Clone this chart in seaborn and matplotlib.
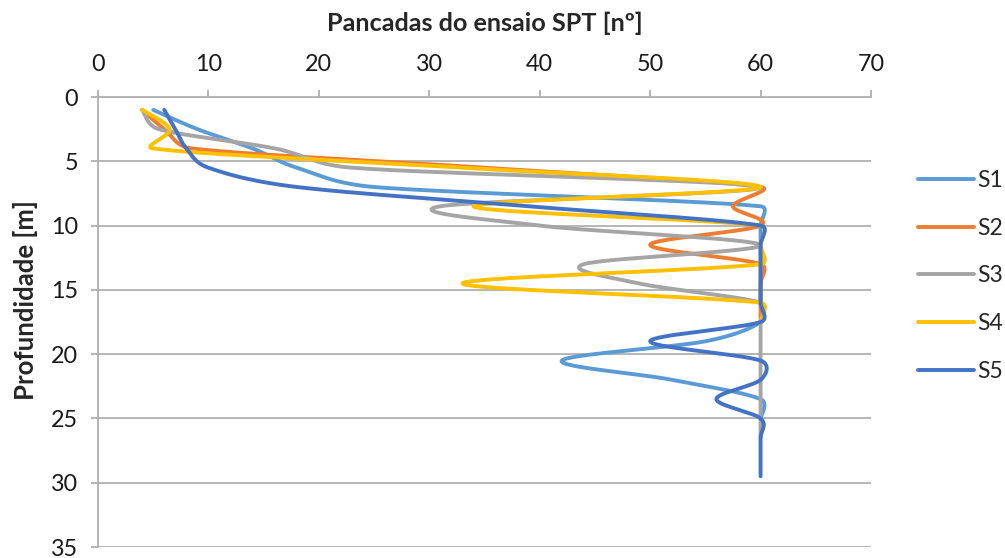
import numpy as np
import pandas as pd
import matplotlib
matplotlib.use("Agg")
import matplotlib.pyplot as plt
from matplotlib.lines import Line2D
import seaborn as sns

# SPT every 1.5 m, starting at 1 m
depth = [1, 2.5, 4, 5.5, 7, 8.5, 10, 11.5, 13, 14.5, 16, 17.5, 19, 20.5,
         22, 23.5, 25, 26.5, 28, 29.5]

s1 = [5, 9, 14, 18, 25, 60, 60, 60, 60, 60, 60, 60, 55, 42, 52, 60, 60]
s2 = [4, 6, 8.5, 35, 60, 57.5, 60, 50, 60, 60, 60, 60]
s3 = [4, 5.5, 16, 23, 60, 31, 40, 60, 44, 49, 60, 60, 60, 60, 60, 60, 60, 60]
s4 = [4, 6.5, 5, 33, 60, 34, 60, 60, 60, 33, 60, 60]
s5 = [6, 7, 8, 10, 18, 39, 60, 60, 60, 60, 60, 60, 50, 60, 60, 56, 60, 60, 60, 60]

series = {"S1": s1, "S2": s2, "S3": s3, "S4": s4, "S5": s5}
colors = {"S1": "#5B9BD5", "S2": "#ED7D31", "S3": "#A5A5A5",
          "S4": "#FFC000", "S5": "#4472C4"}

x_ticks = [0, 10, 20, 30, 40, 50, 60, 70]
y_ticks = [0, 5, 10, 15, 20, 25, 30, 35]


def smooth(xs, ys, n=30, sx=11.04, sy=12.87):
    # Excel-style smoothed line: Bezier segments with tangents capped at
    # half the chord (distances measured in screen pixels)
    p = np.column_stack([np.asarray(xs) * sx, np.asarray(ys) * sy]).astype(float)
    p = np.vstack([p[0], p, p[-1]])
    t = np.linspace(0, 1, n, endpoint=False)[:, None]
    out = []
    for i in range(1, len(p) - 2):
        p0, p1, p2, p3 = p[i - 1], p[i], p[i + 1], p[i + 2]
        d02 = np.linalg.norm(p2 - p0)
        d12 = np.linalg.norm(p2 - p1)
        d13 = np.linalg.norm(p3 - p1)
        f1 = 1 / 6 if d02 / 6 < d12 / 2 else d12 / (2 * d02)
        f2 = 1 / 6 if d13 / 6 < d12 / 2 else d12 / (2 * d13)
        c1 = p1 + (p2 - p0) * f1
        c2 = p2 - (p3 - p1) * f2
        seg = ((1 - t) ** 3) * p1 + 3 * ((1 - t) ** 2) * t * c1 \
            + 3 * (1 - t) * t ** 2 * c2 + t ** 3 * p2
        out.append(seg)
    out.append(p[-2][None, :])
    out = np.vstack(out)
    return out[:, 0] / sx, out[:, 1] / sy


frames = []
for name, vals in series.items():
    cx, cy = smooth(vals, depth[:len(vals)])
    frames.append(pd.DataFrame({"N": cx, "Profundidade": cy, "Sondagem": name}))
df = pd.concat(frames, ignore_index=True)

sns.set_style("white")
plt.rcParams["font.family"] = ["Lato", "DejaVu Sans"]

fig = plt.figure(figsize=(10.05, 5.58), dpi=100)
ax = fig.add_axes([98 / 1005, 1 - 547 / 558, 773 / 1005, 450 / 558])

sns.lineplot(data=df, x="N", y="Profundidade", hue="Sondagem",
             palette=colors, sort=False, estimator=None, lw=2.8,
             legend=False, ax=ax)

ax.set_xlim(0, 70)
ax.set_ylim(35, 0)
ax.set_xticks(x_ticks)
ax.set_yticks(y_ticks)
ax.xaxis.tick_top()
ax.xaxis.set_label_position("top")

grid_c = "#b0b0b0"
ax.grid(axis="y", color=grid_c, lw=1.3)
ax.grid(axis="x", visible=False)
for side in ["right", "bottom"]:
    ax.spines[side].set_visible(False)
for side in ["left", "top"]:
    ax.spines[side].set_color(grid_c)
    ax.spines[side].set_linewidth(1.3)

ax.tick_params(axis="x", top=True, bottom=False, direction="out", length=5,
               width=1.3, color=grid_c, pad=10.5, labelsize=16.8,
               labelcolor="#1a1a1a")
ax.tick_params(axis="y", left=True, direction="out", length=5, width=1.3,
               color=grid_c, pad=9.5, labelsize=16.8, labelcolor="#1a1a1a")

ax.set_xlabel("Pancadas do ensaio SPT [nº]", fontsize=18.2, fontweight="bold")
ax.set_ylabel("Profundidade [m]", fontsize=18.5, fontweight="bold")
ax.xaxis.set_label_coords(0.5, 1.163)
ax.xaxis.label.set_va("center")
ax.yaxis.set_label_coords(-0.094, 0.549)
ax.yaxis.label.set_va("center")

handles = [Line2D([], [], color=colors[k], lw=2.8) for k in series]
fig.legend(handles, list(series), loc="center left",
           bbox_to_anchor=(918 / 1005, 1 - 276 / 558), frameon=False,
           fontsize=16.5, handlelength=2.45, handletextpad=0.15,
           labelspacing=1.17, borderpad=0, borderaxespad=0)

fig.savefig("out.png", dpi=100)
